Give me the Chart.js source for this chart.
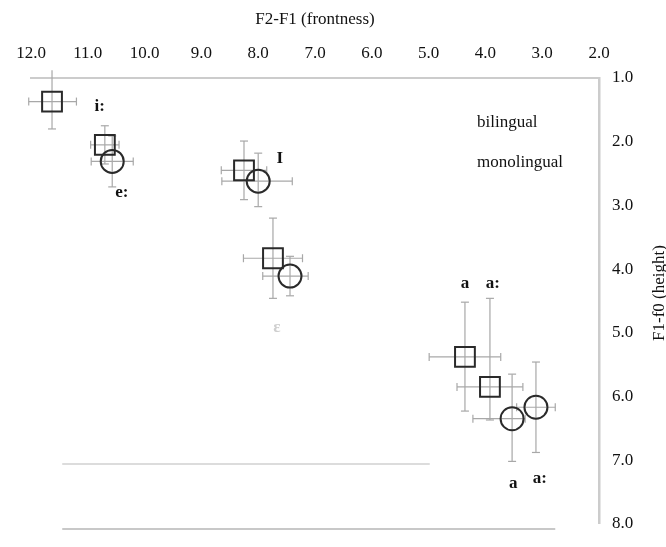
<!DOCTYPE html>
<html>
<head>
<meta charset="utf-8">
<script src="https://cdn.jsdelivr.net/npm/chart.js@4.4.0/dist/chart.umd.min.js"></script>
<style>
html,body{margin:0;padding:0;background:#fff;}
#wrap{width:666px;height:547px;}
</style>
</head>
<body>
<div id="wrap"><canvas id="c" width="666" height="547"></canvas></div>
<script>
// ---- data ----
const seriesNames = ['bilingual', 'monolingual'];
const vowels = ['i:', 'e:', 'I', 'ɛ', 'a', 'a:'];

// bilingual (squares)
const biX   = [11.63, 10.70, 8.25, 7.74, 4.36, 3.92];
const biY   = [1.37, 2.05, 2.45, 3.83, 5.38, 5.85];
const biXLo = [11.20, 10.45, 7.85, 7.22, 3.73, 3.34];
const biXHi = [12.04, 10.95, 8.65, 8.26, 4.99, 4.50];
const biYLo = [0.88, 1.75, 1.99, 3.20, 4.52, 4.46];
const biYHi = [1.80, 2.35, 2.91, 4.46, 6.23, 6.37];

// monolingual (circles)
const monoX   = [null, 10.57, 8.00, 7.44, 3.53, 3.11];
const monoY   = [null, 2.31, 2.62, 4.11, 6.35, 6.17];
const monoXLo = [null, 10.20, 7.40, 7.12, 3.30, 2.77];
const monoXHi = [null, 10.94, 8.64, 7.92, 4.22, 3.45];
const monoYLo = [null, 1.91, 2.18, 3.80, 5.65, 5.46];
const monoYHi = [null, 2.71, 3.02, 4.42, 7.02, 6.88];

// vowel labels (data coordinates)
const labelText = ['i:', 'e:', 'I', 'ɛ', 'a', 'a:', 'a', 'a:'];
const labelX    = [10.79, 10.40, 7.62, 7.67, 4.36, 3.87, 3.51, 3.04];
const labelY    = [1.45, 2.80, 2.26, 4.92, 4.23, 4.23, 7.37, 7.29];

// faint horizontal rules seen in the picture
const ruleY     = [7.06, 8.08];
const ruleXFrom = [11.45, 11.45];
const ruleXTo   = [4.98, 2.77];

// ticks & titles
const xTickValues = [2, 3, 4, 5, 6, 7, 8, 9, 10, 11, 12];
const yTickValues = [1, 2, 3, 4, 5, 6, 7, 8];
const xTitle = 'F2-F1 (frontness)';
const yTitle = 'F1-f0 (height)';

// ---- build datasets ----
const SERIF = 'Liberation Serif';
const datasets = [];

datasets.push({
  label: seriesNames[0],
  data: biX.map((x, i) => ({x: x, y: biY[i]})),
  pointStyle: 'rect', pointRadius: 14,
  borderColor: '#2a2a2a', borderWidth: 2,
  backgroundColor: 'rgba(0,0,0,0)', showLine: false, clip: false
});
datasets.push({
  label: seriesNames[1],
  data: monoX.map((x, i) => ({x: x, y: monoY[i]})).filter(p => p.x !== null),
  pointStyle: 'circle', pointRadius: 11.5,
  borderColor: '#2a2a2a', borderWidth: 2,
  backgroundColor: 'rgba(0,0,0,0)', showLine: false, clip: false
});

function addErrorBars(xs, ys, xlo, xhi, ylo, yhi) {
  xs.forEach((x, i) => {
    if (x === null) return;
    datasets.push({
      label: '', data: [{x: xlo[i], y: ys[i]}, {x: xhi[i], y: ys[i]}],
      showLine: true, borderColor: '#a8a8a8', borderWidth: 1.2,
      pointStyle: 'line', pointRadius: 4, pointRotation: 90,
      pointBorderColor: '#a8a8a8', pointBorderWidth: 1.2, clip: false
    });
    datasets.push({
      label: '', data: [{x: x, y: ylo[i]}, {x: x, y: yhi[i]}],
      showLine: true, borderColor: '#a8a8a8', borderWidth: 1.2,
      pointStyle: 'line', pointRadius: 4, pointRotation: 0,
      pointBorderColor: '#a8a8a8', pointBorderWidth: 1.2, clip: false
    });
  });
}
addErrorBars(biX, biY, biXLo, biXHi, biYLo, biYHi);
addErrorBars(monoX, monoY, monoXLo, monoXHi, monoYLo, monoYHi);

ruleY.forEach((y, i) => {
  datasets.push({
    label: '', data: [{x: ruleXFrom[i], y: y}, {x: ruleXTo[i], y: y}],
    showLine: true, borderColor: i === 0 ? '#dcdcdc' : '#c8c8c8', borderWidth: 2,
    pointRadius: 0, clip: false
  });
});

// ---- plugins ----
const annotate = {
  id: 'annotate',
  afterDatasetsDraw(chart) {
    const ctx = chart.ctx;
    const xs = chart.scales.x, ys = chart.scales.y;
    ctx.save();
    ctx.textAlign = 'center';
    ctx.textBaseline = 'middle';
    labelText.forEach((t, i) => {
      ctx.font = 'bold 17px "' + SERIF + '"';
      ctx.fillStyle = (t === 'ɛ') ? '#cfcfcf' : '#111';
      ctx.fillText(t, xs.getPixelForValue(labelX[i]), ys.getPixelForValue(labelY[i]));
    });
    // legend text
    ctx.font = '17px "' + SERIF + '"';
    ctx.fillStyle = '#111';
    ctx.textAlign = 'left';
    ctx.fillText(seriesNames[0], 477, 123);
    ctx.fillText(seriesNames[1], 477, 163);
    // y-axis title, reading bottom to top
    ctx.translate(664, 293);
    ctx.rotate(-Math.PI / 2);
    ctx.textAlign = 'center';
    ctx.textBaseline = 'alphabetic';
    ctx.fillText(yTitle, 0, 0);
    ctx.restore();
  }
};

new Chart(document.getElementById('c'), {
  type: 'scatter',
  data: {datasets: datasets},
  options: {
    responsive: false,
    animation: false,
    devicePixelRatio: 1,
    events: [],
    layout: {padding: {left: 31, right: 0, top: 0, bottom: 14}},
    plugins: {legend: {display: false}, tooltip: {enabled: false}},
    scales: {
      x: {
        type: 'linear', position: 'top', reverse: true, min: 2, max: 12,
        afterBuildTicks: s => { s.ticks = xTickValues.map(v => ({value: v})); },
        afterFit: s => { s.height = 78; },
        ticks: {
          callback: v => Number(v).toFixed(1),
          font: {family: SERIF, size: 17}, color: '#111',
          padding: 14, maxRotation: 0, autoSkip: false
        },
        grid: {display: true, drawOnChartArea: false, drawTicks: false},
        border: {display: true, color: '#cccccc', width: 2},
        title: {display: true, text: xTitle, font: {family: SERIF, size: 17}, color: '#111', padding: {top: 9, bottom: 0}}
      },
      y: {
        type: 'linear', position: 'right', reverse: true, min: 1, max: 8,
        afterBuildTicks: s => { s.ticks = yTickValues.map(v => ({value: v})); },
        afterFit: s => { s.width = 67; },
        ticks: {
          callback: v => Number(v).toFixed(1),
          font: {family: SERIF, size: 17}, color: '#111',
          padding: 13, autoSkip: false
        },
        grid: {display: true, drawOnChartArea: false, drawTicks: false},
        border: {display: true, color: '#cccccc', width: 2.5}
      }
    }
  },
  plugins: [annotate]
});
</script>
</body>
</html>
